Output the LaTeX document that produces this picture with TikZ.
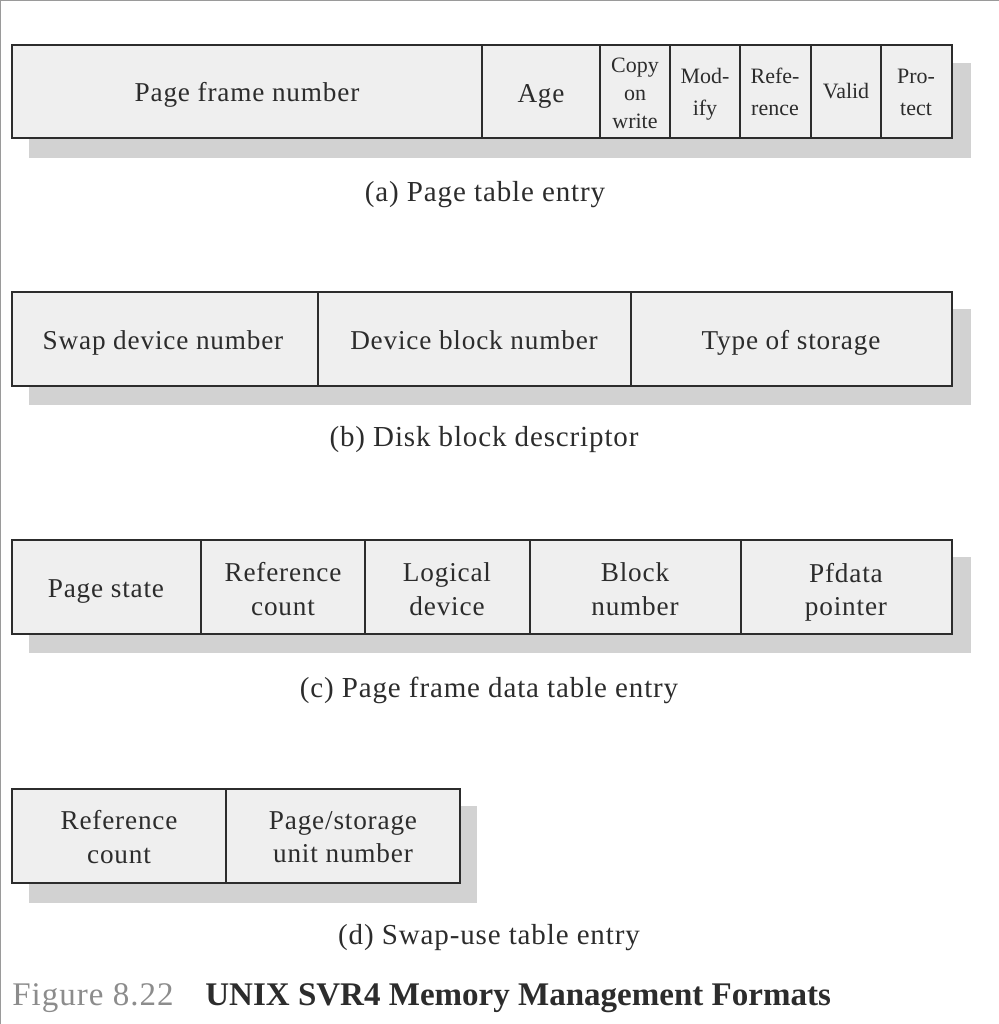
\documentclass[tikz,border=0pt]{standalone}
\usepackage{fontspec}
\setmainfont{Liberation Serif}
\newfontfamily\spacedfont{Liberation Serif}[LetterSpace=3]
\usetikzlibrary{positioning}
\definecolor{cellfill}{HTML}{EFEFEF}
\definecolor{shadowgray}{HTML}{D2D2D2}
\definecolor{framegray}{HTML}{9A9A9A}
\definecolor{inkgray}{HTML}{2C2C2C}
\definecolor{numgray}{HTML}{8C8C8C}
\tikzset{font={\fontsize{15.5pt}{18pt}\selectfont}}
\tikzset{
  cell/.style={text=inkgray, align=center, font={\spacedfont\fontsize{15.5pt}{19pt}\selectfont}},
  cellbase/.style={cell, anchor=base},
  small/.style={text=inkgray, align=center, font={\fontsize{12.5pt}{16pt}\selectfont}},
  smalltwo/.style={small, font={\fontsize{12.5pt}{18.2pt}\selectfont}},
  caption/.style={text=inkgray, font={\spacedfont\fontsize{16.5pt}{20pt}\selectfont}},
  shadowbox/.style={fill=shadowgray, draw=none},
  fieldbox/.style={fill=cellfill, draw=inkgray, line width=1.4pt},
  divider/.style={draw=inkgray, line width=1pt}
}

\begin{document}
\begin{tikzpicture}[x=0.02cm, y=-0.02cm]
\useasboundingbox (0,0) rectangle (999,1024);

%frame
\draw[framegray, line width=1pt] (999,0.5) -- (0.5,0.5) -- (0.5,1024);

%(a) page table entry
\fill[shadowbox] (29,63) rectangle (971,158);
\draw[fieldbox] (12,45) rectangle (952,138);
\draw[divider] (482,45) -- (482,138);
\draw[divider] (600,45) -- (600,138);
\draw[divider] (670,45) -- (670,138);
\draw[divider] (740,45) -- (740,138);
\draw[divider] (811,45) -- (811,138);
\draw[divider] (881,45) -- (881,138);

\node[cellbase] (pfn) at (247,102) {Page frame number};
\node[cellbase] (age) at (541,103) {Age};
\node[small] (cow) at (635,93) {Copy\\on\\write};
\node[smalltwo] (mod) at (705,94) {Mod-\\ify};
\node[smalltwo] (ref) at (775,92) {Refe-\\rence};
\node[small, anchor=base] (valid) at (846,99) {Valid};
\node[smalltwo] (prot) at (916,92) {Pro-\\tect};

\node[caption] (capa) at (485,195) {(a) Page table entry};

%(b) disk block descriptor
\fill[shadowbox] (29,309) rectangle (971,405);
\draw[fieldbox] (12,292) rectangle (952,386);
\draw[divider] (318,292) -- (318,386);
\draw[divider] (631,292) -- (631,386);

\node[cellbase] (swapdev) at (163,349) {Swap device number};
\node[cellbase] (devblock) at (474,349) {Device block number};
\node[cellbase] (storage) at (791,349) {Type of storage};

\node[caption] (capb) at (484,440) {(b) Disk block descriptor};

%(c) page frame data table entry
\fill[shadowbox] (29,557) rectangle (971,653);
\draw[fieldbox] (12,540) rectangle (952,634);
\draw[divider] (201,540) -- (201,634);
\draw[divider] (365,540) -- (365,634);
\draw[divider] (530,540) -- (530,634);
\draw[divider] (741,540) -- (741,634);

\node[cellbase] (pstate) at (106,597) {Page state};
\node[cell] (refcnt) at (283,589) {Reference\\count};
\node[cell] (logdev) at (447,589) {Logical\\device};
\node[cell] (blknum) at (635,589) {Block\\number};
\node[cell] (pfdata) at (846,592) {Pfdata\\pointer};

\node[caption] (capc) at (489,690) {(c) Page frame data table entry};

%(d) swap-use table entry
\fill[shadowbox] (29,806) rectangle (477,903);
\draw[fieldbox] (12,789) rectangle (460,883);
\draw[divider] (226,789) -- (226,883);

\node[cell] (swref) at (119,837) {Reference\\count};
\node[cell] (unitnum) at (343,837) {Page/storage\\unit number};

\node[caption] (capd) at (489,938) {(d) Swap-use table entry};

%figure caption
\node[anchor=west, inner sep=0pt, text=numgray, font={\spacedfont\fontsize{18.8pt}{22pt}\selectfont}] (fignum) at (12,998) {Figure 8.22};
\node[anchor=west, inner sep=0pt, text=inkgray, font={\fontsize{18.8pt}{22pt}\selectfont\bfseries}] (figtitle) at (205,998) {UNIX SVR4 Memory Management Formats};

\end{tikzpicture}
\end{document}
